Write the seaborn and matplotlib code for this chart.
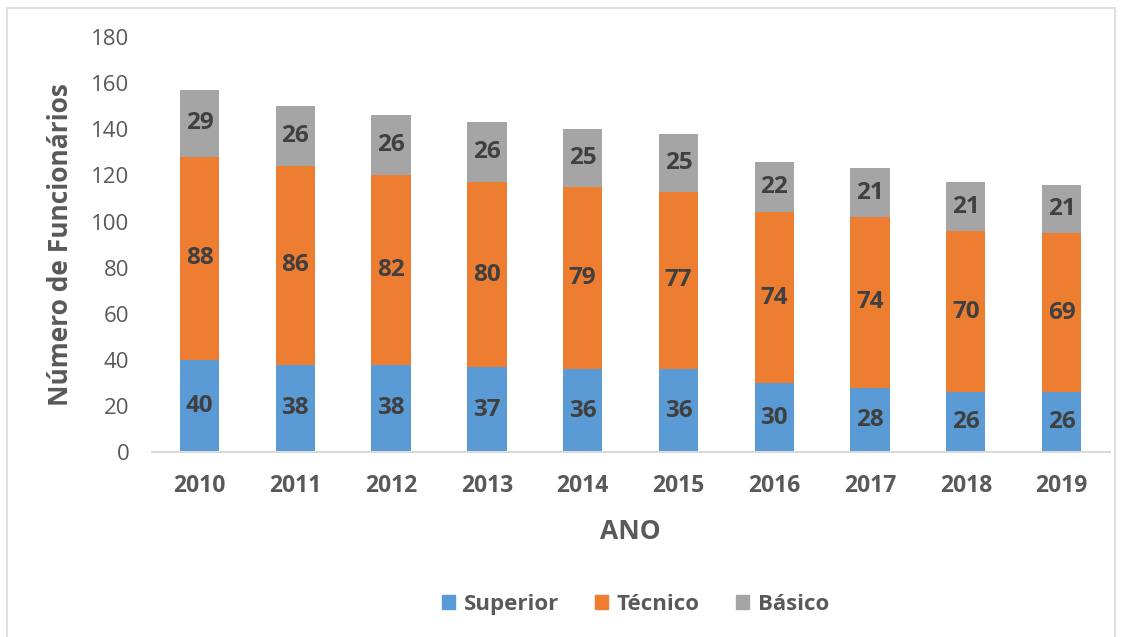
import numpy as np
import pandas as pd
import matplotlib
matplotlib.use("Agg")
import matplotlib.pyplot as plt
import seaborn as sns
from matplotlib.patches import Rectangle, Patch

anos = ["2010", "2011", "2012", "2013", "2014", "2015", "2016", "2017", "2018", "2019"]
superior = [40, 38, 38, 37, 36, 36, 30, 28, 26, 26]
tecnico = [88, 86, 82, 80, 79, 77, 74, 74, 70, 69]
basico = [29, 26, 26, 26, 25, 25, 22, 21, 21, 21]

CORES = {"Superior": "#5B9BD5", "Técnico": "#ED7D31", "Básico": "#A5A5A5"}
TXT = "#595959"

sns.set_style("white")
plt.rcParams["font.family"] = ["Open Sans", "DejaVu Sans"]

fig = plt.figure(figsize=(11.23, 6.37), dpi=100)
ax = fig.add_axes([0.135, 0.290, 0.853, 0.652])

df = pd.DataFrame({"ano": anos, "Superior": superior, "Técnico": tecnico, "Básico": basico})
base = np.zeros(len(anos))
for serie in ["Superior", "Técnico", "Básico"]:
    sns.barplot(data=df, x="ano", y=serie, color=CORES[serie], width=0.41,
                bottom=base, ax=ax, saturation=1, label=serie, linewidth=0)
    for i, v in enumerate(df[serie]):
        ax.text(i, base[i] + v / 2, str(v), ha="center", va="center",
                fontsize=17.5, fontweight="bold", color="#404040")
    base = base + df[serie].to_numpy()

ax.set_ylim(0, 180)
ax.set_yticks(range(0, 181, 20))
ax.set_xlim(-0.5, len(anos) - 0.5)
for s in ["top", "right", "left"]:
    ax.spines[s].set_visible(False)
ax.spines["bottom"].set_color("#D9D9D9")
ax.spines["bottom"].set_linewidth(1.5)
ax.tick_params(axis="both", length=0, labelcolor=TXT)
ax.tick_params(axis="x", labelsize=16.5, pad=16)
ax.tick_params(axis="y", labelsize=16, pad=16)
for lbl in ax.get_xticklabels():
    lbl.set_fontweight("bold")
ax.set_xlabel("ANO", fontsize=19, fontweight="bold", color=TXT, labelpad=14)
ax.set_ylabel("Número de Funcionários", fontsize=19, fontweight="bold", color=TXT, labelpad=12)

handles = [Patch(color=CORES[s]) for s in CORES]
ax.legend(handles, list(CORES), loc="center", bbox_to_anchor=(0.505, -0.367), ncol=3,
          frameon=False, handlelength=0.6, handleheight=0.6, columnspacing=1.6,
          handletextpad=0.4, prop={"size": 16, "weight": "bold"}, labelcolor=TXT)

fig.patches.append(Rectangle((0.006, -0.01), 0.987, 0.998, transform=fig.transFigure,
                             fill=False, edgecolor="#D9D9D9", linewidth=1.2))

fig.savefig("out.png", dpi=100)
